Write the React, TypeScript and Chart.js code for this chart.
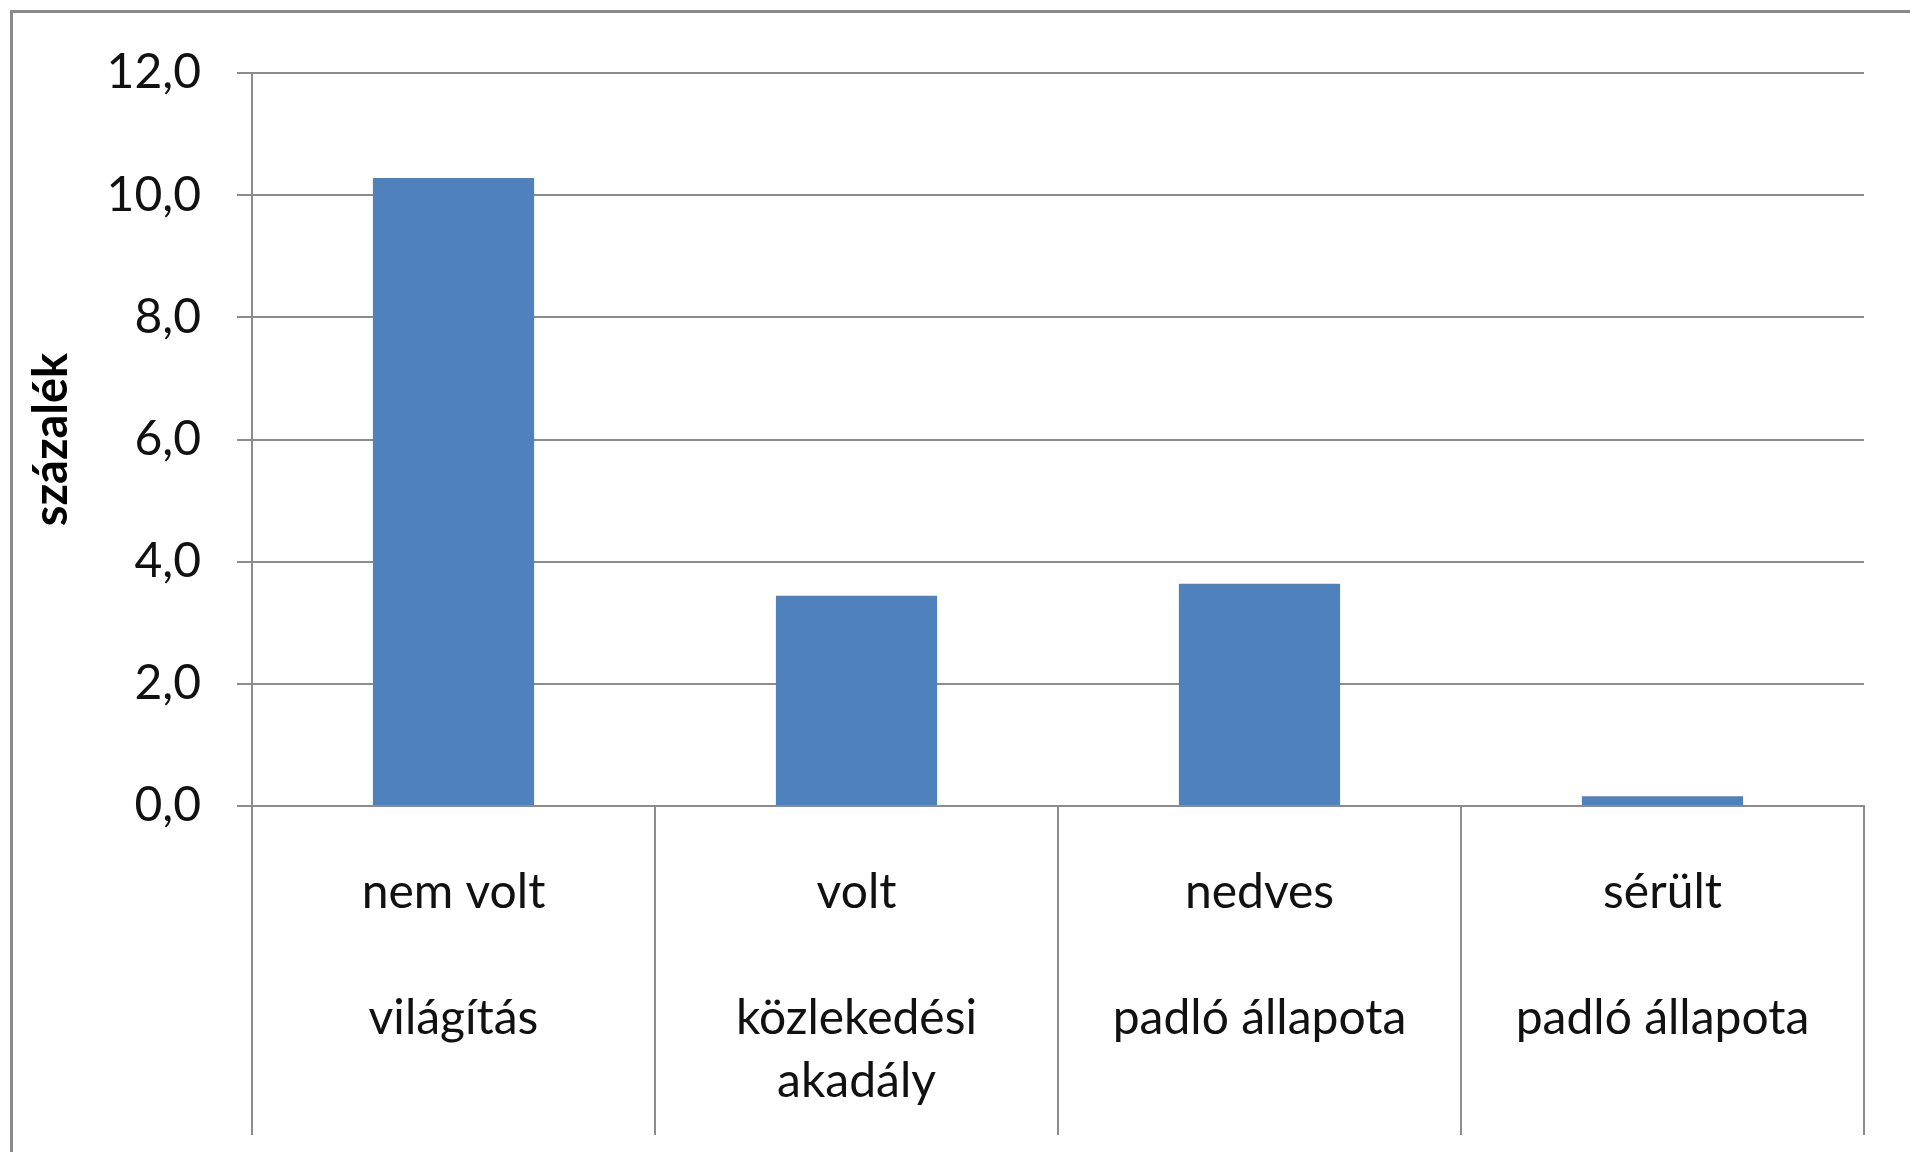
import React, { useEffect, useRef } from "react";
import { Chart, registerables } from "chart.js";

Chart.register(...registerables);

const categories: string[][] = [
  ["nem volt", "", "világítás"],
  ["volt", "", "közlekedési", "akadály"],
  ["nedves", "", "padló állapota"],
  ["sérült", "", "padló állapota"],
];
const values: number[] = [10.28, 3.44, 3.64, 0.16];
const yTicks: number[] = [0, 2, 4, 6, 8, 10, 12];
const yTitle = "százalék";

const FONT = "Lato";
const GRID = "#8c8c8c";
const BAR = "#4F81BD";

const dividerPlugin = {
  id: "dividers",
  afterDraw(chart: any) {
    const xs = chart.scales.x;
    const area = chart.chartArea;
    const ctx = chart.ctx;
    const n = chart.data.labels.length;
    ctx.save();
    ctx.strokeStyle = GRID;
    ctx.lineWidth = 2;
    for (let i = 0; i <= n; i++) {
      const px = Math.round(xs.getPixelForValue(i - 0.5));
      ctx.beginPath();
      ctx.moveTo(px, area.bottom);
      ctx.lineTo(px, xs.bottom);
      ctx.stroke();
    }
    ctx.restore();
  },
};

export default function App() {
  const ref = useRef<HTMLCanvasElement | null>(null);
  useEffect(() => {
    if (!ref.current) return;
    const chart = new Chart(ref.current, {
      type: "bar",
      data: {
        labels: categories,
        datasets: [
          {
            data: values,
            backgroundColor: BAR,
            borderWidth: 0,
            barPercentage: 0.4,
            categoryPercentage: 1,
          },
        ],
      },
      plugins: [dividerPlugin],
      options: {
        animation: false,
        responsive: false,
        maintainAspectRatio: false,
        layout: { padding: { top: 73, right: 46, bottom: 17, left: 0 } },
        plugins: { legend: { display: false }, tooltip: { enabled: false } },
        scales: {
          x: {
            offset: true,
            grid: { display: false, drawTicks: false },
            border: { display: true, color: GRID, width: 2 },
            ticks: {
              color: "#111",
              padding: 55,
              maxRotation: 0,
              autoSkip: false,
              font: { family: FONT, size: 48, lineHeight: 63 / 48 },
            },
            afterFit: (s: any) => {
              s.height = 329;
            },
          },
          y: {
            min: 0,
            max: 12,
            afterBuildTicks: (s: any) => {
              s.ticks = yTicks.map((v) => ({ value: v }));
            },
            grid: { color: GRID, lineWidth: 2, drawTicks: true, tickLength: 15, tickColor: GRID },
            border: { display: true, color: GRID, width: 2 },
            ticks: {
              color: "#111",
              padding: 36,
              font: { family: FONT, size: 48 },
              callback: (v: any) => Number(v).toFixed(1).replace(".", ","),
            },
            title: {
              display: true,
              text: yTitle,
              color: "#000",
              font: { family: FONT, size: 47, weight: "bold" },
              padding: { top: 24, bottom: 0 },
            },
            afterFit: (s: any) => {
              s.width = 252;
            },
          },
        },
      },
    });
    return () => chart.destroy();
  }, []);

  return (
    <div style={{ position: "absolute", left: 0, top: 0, width: 1910, height: 1152, overflow: "hidden", background: "#fff" }}>
      <div
        style={{
          position: "absolute",
          left: 10,
          top: 10,
          width: 1960,
          height: 1220,
          border: "3px solid #8a8a8a",
          boxSizing: "border-box",
        }}
      />
      <canvas ref={ref} width={1910} height={1152} style={{ position: "absolute", left: 0, top: 0 }} />
    </div>
  );
}
